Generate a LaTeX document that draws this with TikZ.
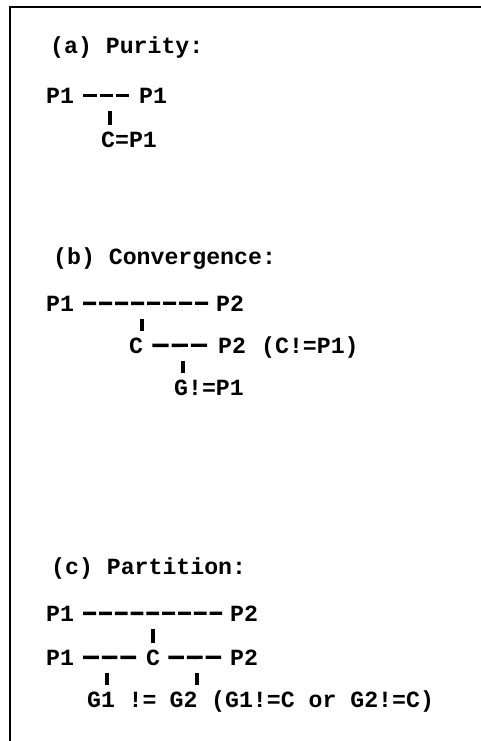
\documentclass[tikz,border=0pt]{standalone}
\usepackage{fontspec}
\newfontfamily\asciifont{Liberation Mono}
\usetikzlibrary{calc}
\begin{document}
\begin{tikzpicture}[x=1bp,y=-1bp,
    tok/.style={anchor=base west,inner sep=0pt,font=\fontsize{23.2bp}{24bp}\selectfont\asciifont\bfseries},
    link/.style={line width=3.4bp,dash pattern=on #1 off 3bp},
    bar/.style={line width=3.6bp}]
    \useasboundingbox (0,0) rectangle (481,741);
    \draw[line width=2bp] (10,741) -- (10,7) -- (481,7);
    % (a)
    \node[tok] (ttlA) at (50,54) {(a) Purity:};
    \node[tok] (aP1) at (46,103) {P1};
    \node[tok] (aP1b) at (139,103) {P1};
    \node[tok] (aC) at (101,147) {C=P1};
    \draw[link=13.4bp] ([xshift=9bp]aP1.east) -- ([xshift=-8bp]aP1b.west);
    \coordinate (aJ) at (110,111);
    \draw[bar] (aJ) -- ([yshift=6bp]aJ |- aC.north);
    % (b)
    \node[tok] (ttlB) at (53,264) {(b) Convergence:};
    \node[tok] (bP1) at (46,311) {P1};
    \node[tok] (bP2) at (216,311) {P2};
    \node[tok] (bC) at (129,353) {C};
    \node[tok] (bP2b) at (218,353) {P2};
    \node[tok] (bNe) at (261,353) {(C!=P1)};
    \node[tok] (bG) at (174,395) {G!=P1};
    \draw[link=13bp] ([xshift=9bp]bP1.east) -- ([xshift=-8bp]bP2.west);
    \draw[link=16.3bp] ([xshift=9bp]bC.east) -- ([xshift=-8bp]bP2b.west);
    \coordinate (bJ) at (142,319);
    \draw[bar] (bJ) -- ([yshift=6bp]bJ |- bC.north);
    \coordinate (bK) at (183,361);
    \draw[bar] (bK) -- ([yshift=6bp]bK |- bG.north);
    % (c)
    \node[tok] (ttlC) at (51,574) {(c) Partition:};
    \node[tok] (cP1) at (46,621) {P1};
    \node[tok] (cP2) at (230,621) {P2};
    \node[tok] (cP1b) at (46,665) {P1};
    \node[tok] (cC) at (146,665) {C};
    \node[tok] (cP2b) at (230,665) {P2};
    \node[tok] (cG1) at (87,707) {G1};
    \node[tok] (cNe) at (128.5,707) {!=};
    \node[tok] (cG2) at (169.5,707) {G2};
    \node[tok] (cOr) at (211,707) {(G1!=C or G2!=C)};
    \draw[link=12.8bp] ([xshift=9bp]cP1.east) -- ([xshift=-8bp]cP2.west);
    \draw[link=15.6bp] ([xshift=9bp]cP1b.east) -- ([xshift=-8bp]cC.west);
    \draw[link=15.6bp] ([xshift=8bp]cC.east) -- ([xshift=-8bp]cP2b.west);
    \coordinate (cJ) at (153,629);
    \draw[bar] (cJ) -- ([yshift=6bp]cJ |- cC.north);
    \coordinate (cK) at (107,673);
    \draw[bar] (cK) -- ([yshift=6bp]cK |- cG1.north);
    \coordinate (cL) at (197,673);
    \draw[bar] (cL) -- ([yshift=6bp]cL |- cG2.north);
\end{tikzpicture}
\end{document}
